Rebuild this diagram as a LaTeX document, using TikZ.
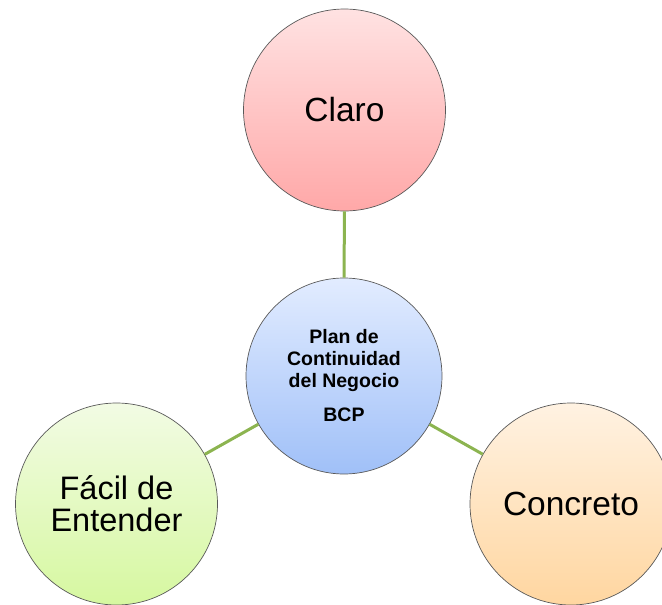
\documentclass[tikz,border=0pt]{standalone}
\usepackage{fontspec}
\setmainfont{Liberation Sans}
\begin{document}
\begin{tikzpicture}[x=1pt,y=-1pt,
  bubble/.style={circle, draw=black!65, line width=0.7pt, minimum size=202pt, inner sep=0pt, align=center},
  bigtxt/.style={font=\fontsize{33.5}{34}\selectfont},
  link/.style={draw={rgb,255:red,140;green,180;blue,80}, line width=3pt}]
\useasboundingbox (0,0) rectangle (662,605);
\clip (0,0) rectangle (662,605);
\node[bubble, bigtxt, top color={rgb,255:red,255;green,226;blue,226}, bottom color={rgb,255:red,255;green,168;blue,168}] (claro) at (344.5,110) {Claro};
\node[bubble, minimum size=196pt, top color={rgb,255:red,226;green,236;blue,255}, bottom color={rgb,255:red,160;green,192;blue,248},
  font=\bfseries\fontsize{19.5}{22}\selectfont] (bcp) at (344,376) {Plan de\\Continuidad\\del Negocio\\[12pt]BCP};
\node[bubble, font=\fontsize{32.5}{32}\selectfont, top color={rgb,255:red,242;green,251;blue,228}, bottom color={rgb,255:red,214;green,248;blue,160}] (facil) at (116.5,504) {Fácil de\\Entender};
\node[bubble, bigtxt, top color={rgb,255:red,255;green,242;blue,226}, bottom color={rgb,255:red,255;green,214;blue,160}] (concreto) at (571,504) {Concreto};
\draw[link] (claro) -- (bcp);
\draw[link] (bcp) -- (facil);
\draw[link] (bcp) -- (concreto);
\end{tikzpicture}
\end{document}
